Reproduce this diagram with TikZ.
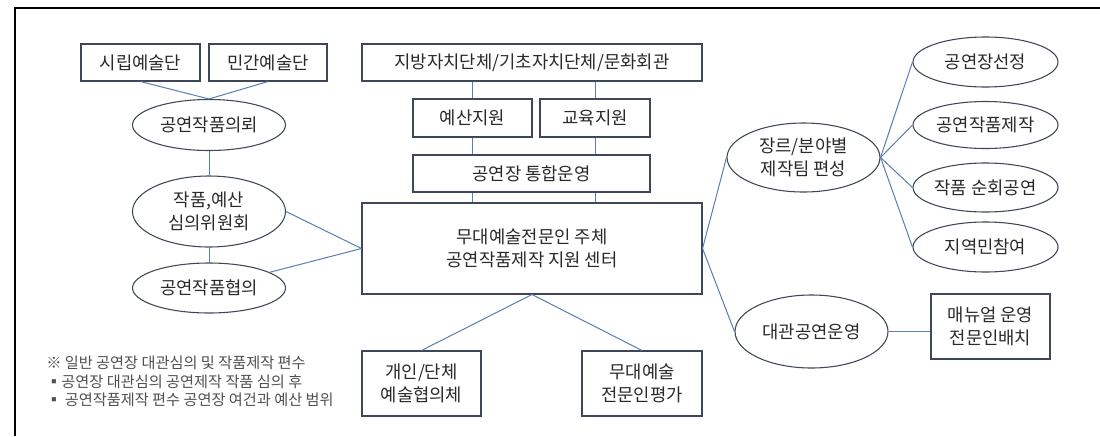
\documentclass[tikz,border=0pt]{standalone}
\usepackage{fontspec}
\setmainfont{Noto Sans CJK KR}
\usetikzlibrary{shapes.geometric}
\definecolor{bordc}{HTML}{3E4757}
\definecolor{linec}{HTML}{5B7DB1}
\definecolor{txtc}{HTML}{2A2A2A}
\definecolor{notec}{HTML}{505050}
\begin{document}
\begin{tikzpicture}[x=0.75pt,y=-0.75pt,
  bx/.style 2 args={rectangle,draw=bordc,line width=0.8pt,inner sep=0pt,
    minimum width=#1*0.75pt,minimum height=#2*0.75pt,align=center,text=txtc,
    font=\fontsize{13.3}{17.3}\selectfont},
  el/.style 2 args={ellipse,draw=bordc,line width=0.8pt,inner sep=0pt,
    minimum width=#1*0.75pt,minimum height=#2*0.75pt,align=center,text=txtc,
    font=\fontsize{13.3}{17.3}\selectfont},
  conn/.style={draw=linec,line width=0.75pt}]
\useasboundingbox (0,0) rectangle (1100,436);
\fill[white] (0,0) rectangle (1100,436);
\coordinate (ftop) at (1100,8);
\coordinate (fcorner) at (15,8);
\coordinate (fbot) at (15,436);
\draw[black,line width=1.1pt] (ftop) -- (fcorner) -- (fbot);

% left column
\node[bx={119}{37}] (siri) at (140.5,62.5) {시립예술단};
\node[bx={118}{37}] (mingan) at (268,62.5) {민간예술단};
\node[el={153}{51}] (uiroe) at (209,125) {공연작품의뢰};
\node[el={153}{71}] (simui) at (209,211.5) {작품,예산\\심의위원회};
\node[el={153}{50}] (hyeob) at (209,288) {공연작품협의};

% center column
\node[bx={340}{37}] (jibang) at (532,62.5) {지방자치단체/기초자치단체/문화회관};
\node[bx={119}{38}] (yesan) at (472.5,118) {예산지원};
\node[bx={110}{38}] (gyoyuk) at (595,118) {교육지원};
\node[bx={237}{37}] (tonghap) at (531.5,173.5) {공연장 통합운영};
\node[bx={340}{91}] (center) at (532,248.5) {무대예술전문인 주체\\공연작품제작 지원 센터};
\node[bx={119}{65}] (gaein) at (421.5,383.5) {개인/단체\\예술협의체};
\node[bx={120}{65}] (mudae) at (642,383.5) {무대예술\\전문인평가};

% right side
\node[el={153}{69}] (jangre) at (803.5,157.5) {장르/분야별\\제작팀 편성};
\node[el={145}{50}] (seonjeong) at (985.5,62) {공연장선정};
\node[el={145}{47}] (jejak) at (985.5,125) {공연작품제작};
\node[el={145}{49}] (sunhoe) at (985.5,187.5) {작품 순회공연};
\node[el={145}{50}] (jiyeok) at (985.5,247) {지역민참여};
\node[el={153}{73}] (daegwan) at (811.5,331.5) {대관공연운영};
\node[bx={119}{65}] (manual) at (990.5,326.5) {매뉴얼 운영\\전문인배치};

% note
\node[anchor=north west,align=left,text=notec,inner sep=0pt,
  font=\fontsize{11.4}{13.9}\selectfont] (note) at (46,356)
  {※ 일반 공연장 대관심의 및 작품제작 편수\\
   ▪공연장 대관심의 공연제작 작품 심의 후\\
   ▪ 공연작품제작 편수 공연장 여건과 예산 범위};

% connectors
\draw[conn] (siri.south) -- (uiroe.north);
\draw[conn] (mingan.south) -- (uiroe.north);
\draw[conn] (uiroe.south) -- (simui.north);
\draw[conn] (simui.south) -- (hyeob.north);
\draw[conn] (simui.east) -- (center.west);
\draw[conn] (hyeob) -- (center.west);

\draw[conn] (yesan.north) -- (yesan.north |- jibang.south);
\draw[conn] (gyoyuk.north) -- (gyoyuk.north |- jibang.south);
\draw[conn] (yesan.south) -- (yesan.south |- tonghap.north);
\draw[conn] (gyoyuk.south) -- (gyoyuk.south |- tonghap.north);
\draw[conn] (yesan.south |- tonghap.south) -- (yesan.south |- center.north);
\draw[conn] (gyoyuk.south |- tonghap.south) -- (gyoyuk.south |- center.north);

\draw[conn] (center.south) -- (gaein.north);
\draw[conn] (center.south) -- (mudae.north);
\draw[conn] (center.east) -- (jangre.west);
\draw[conn] (center.east) -- (daegwan.west);

\draw[conn] (jangre.east) -- (seonjeong.west);
\draw[conn] (jangre.east) -- (jejak.west);
\draw[conn] (jangre.east) -- (sunhoe.west);
\draw[conn] (jangre.east) -- (jiyeok.west);
\draw[conn] (daegwan.east) -- (daegwan.east -| manual.west);
\end{tikzpicture}
\end{document}
